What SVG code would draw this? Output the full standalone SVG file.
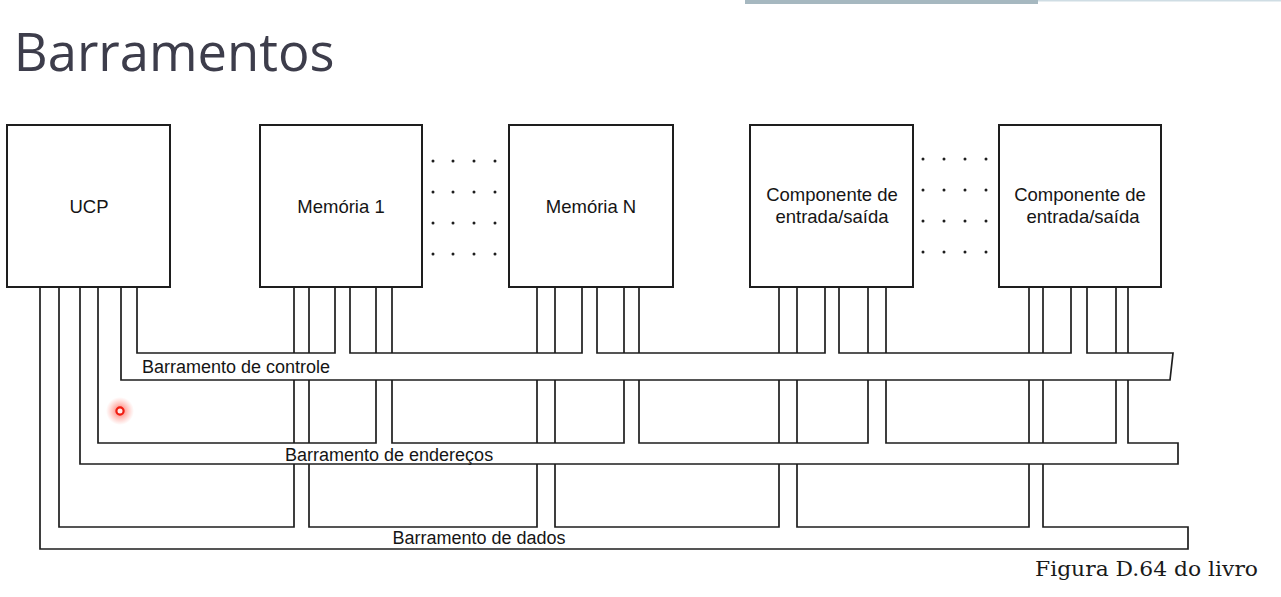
<svg xmlns="http://www.w3.org/2000/svg" width="1281" height="597" viewBox="0 0 1281 597">
  <defs>
    <style>
      .box { fill: none; stroke: #1e1e1e; stroke-width: 2; }
      .wire { fill: none; stroke: #1e1e1e; stroke-width: 1.7; stroke-linejoin: miter; }
      .lbl { font-family: "Liberation Sans", Arial, sans-serif; font-size: 18.5px; fill: #151515; text-anchor: middle; }
      .bus { font-family: "Liberation Sans", Arial, sans-serif; font-size: 18px; fill: #151515; }
      .dot { fill: #1e1e1e; }
    </style>
    <radialGradient id="glow">
      <stop offset="0" stop-color="#ff2a1a" stop-opacity="0.7"/>
      <stop offset="0.5" stop-color="#ff4a3a" stop-opacity="0.35"/>
      <stop offset="1" stop-color="#ff6a5a" stop-opacity="0"/>
    </radialGradient>
  </defs>
  <rect x="0" y="0" width="1281" height="597" fill="#ffffff"/>

  <!-- top decoration bar -->
  <rect x="745" y="0" width="293" height="4" fill="#a6b8c0"/>
  <rect x="1038" y="0" width="243" height="1.5" fill="#cfdde4"/>

  <!-- title -->
  <text x="13.8" y="70.5" font-family="'Open Sans', 'Noto Sans', sans-serif" font-size="52.5" fill="#3d3d4b">Barramentos</text>

  <!-- nodes -->
  <g id="ucp">
    <rect class="box" x="7" y="125" width="163" height="162"/>
    <text class="lbl" x="89" y="213">UCP</text>
  </g>
  <g id="memoria1">
    <rect class="box" x="260" y="125" width="162" height="162"/>
    <text class="lbl" x="341" y="213">Memória 1</text>
  </g>
  <g id="memoriaN">
    <rect class="box" x="509" y="125" width="164" height="162"/>
    <text class="lbl" x="591" y="213">Memória N</text>
  </g>
  <g id="es1">
    <rect class="box" x="750" y="125" width="163" height="162"/>
    <text class="lbl" x="832" y="201">Componente de</text>
    <text class="lbl" x="832" y="222.5">entrada/saída</text>
  </g>
  <g id="es2">
    <rect class="box" x="999" y="125" width="162" height="162"/>
    <text class="lbl" x="1080" y="201">Componente de</text>
    <text class="lbl" x="1083" y="222.5">entrada/saída</text>
  </g>

  <!-- ellipsis dots -->
  <g id="dots-mem">
    <circle class="dot" cx="433" cy="161" r="1.5"/><circle class="dot" cx="453" cy="161" r="1.5"/><circle class="dot" cx="474" cy="161" r="1.5"/><circle class="dot" cx="495" cy="161" r="1.5"/>
    <circle class="dot" cx="433" cy="192" r="1.5"/><circle class="dot" cx="453" cy="192" r="1.5"/><circle class="dot" cx="474" cy="192" r="1.5"/><circle class="dot" cx="495" cy="192" r="1.5"/>
    <circle class="dot" cx="433" cy="223" r="1.5"/><circle class="dot" cx="453" cy="223" r="1.5"/><circle class="dot" cx="474" cy="223" r="1.5"/><circle class="dot" cx="495" cy="223" r="1.5"/>
    <circle class="dot" cx="433" cy="254" r="1.5"/><circle class="dot" cx="453" cy="254" r="1.5"/><circle class="dot" cx="474" cy="254" r="1.5"/><circle class="dot" cx="495" cy="254" r="1.5"/>
  </g>
  <g id="dots-es">
    <circle class="dot" cx="923" cy="159" r="1.5"/><circle class="dot" cx="944" cy="159" r="1.5"/><circle class="dot" cx="965" cy="159" r="1.5"/><circle class="dot" cx="986" cy="159" r="1.5"/>
    <circle class="dot" cx="923" cy="190" r="1.5"/><circle class="dot" cx="944" cy="190" r="1.5"/><circle class="dot" cx="965" cy="190" r="1.5"/><circle class="dot" cx="986" cy="190" r="1.5"/>
    <circle class="dot" cx="923" cy="221" r="1.5"/><circle class="dot" cx="944" cy="221" r="1.5"/><circle class="dot" cx="965" cy="221" r="1.5"/><circle class="dot" cx="986" cy="221" r="1.5"/>
    <circle class="dot" cx="923" cy="252" r="1.5"/><circle class="dot" cx="944" cy="252" r="1.5"/><circle class="dot" cx="965" cy="252" r="1.5"/><circle class="dot" cx="986" cy="252" r="1.5"/>
  </g>

  <!-- connectors: buses and taps -->
  <g id="connectors">
    <!-- control bus -->
    <path class="wire" d="M137,287 V353 H335 V287 M350,287 V353 H582 V287 M597,287 V353 H825 V287 M839,287 V353 H1071 V287 M1087,287 V353 H1173 L1170,380 H121 V287"/>
    <!-- address bus -->
    <path class="wire" d="M98,287 V443 H376 V380 M392,380 V443 H624 V380 M639,380 V443 H868 V380 M886,380 V443 H1116 V380 M1128,380 V443 H1178 V464 H80 V287"/>
    <path class="wire" d="M376,287 V353 M392,287 V353 M624,287 V353 M639,287 V353 M868,287 V353 M886,287 V353 M1116,287 V353 M1128,287 V353"/>
    <!-- data bus -->
    <path class="wire" d="M59,287 V527 H294 V464 M309,464 V527 H537 V464 M555,464 V527 H779 V464 M797,464 V527 H1029 V464 M1043,464 V527 H1188 V549 H40 V287"/>
    <path class="wire" d="M294,287 V353 M294,380 V443 M309,287 V353 M309,380 V443 M537,287 V353 M537,380 V443 M555,287 V353 M555,380 V443 M779,287 V353 M779,380 V443 M797,287 V353 M797,380 V443 M1029,287 V353 M1029,380 V443 M1043,287 V353 M1043,380 V443"/>
    <!-- bus labels -->
    <text class="bus" x="142" y="373">Barramento de controle</text>
    <text class="bus" x="285" y="460.5">Barramento de endereços</text>
    <text class="bus" x="392.5" y="544">Barramento de dados</text>
  </g>

  <!-- laser pointer -->
  <circle cx="120" cy="411" r="14" fill="url(#glow)"/>
  <circle cx="120" cy="411" r="3.6" fill="#ffe8e6" stroke="#f01c10" stroke-width="2.2"/>

  <!-- caption -->
  <text x="1035" y="576" font-family="'DejaVu Serif', 'Liberation Serif', serif" font-size="21" fill="#1a1a1a" textLength="223" lengthAdjust="spacingAndGlyphs">Figura D.64 do livro</text>
</svg>
